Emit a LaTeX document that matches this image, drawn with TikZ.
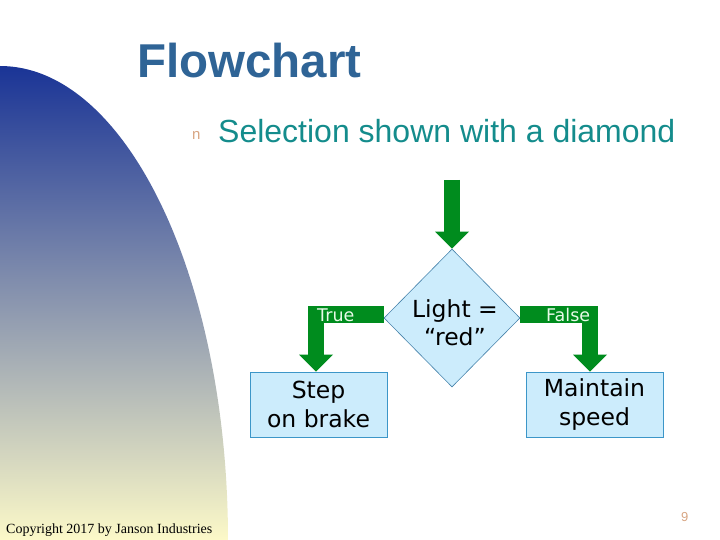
\documentclass[tikz,border=0pt]{standalone}
\usepackage{fontspec}
\setmainfont{Liberation Sans}
\newfontfamily\vfont{DejaVu Sans}
\newfontfamily\serfont{Liberation Serif}
\usetikzlibrary{shapes.geometric,arrows.meta}
\definecolor{gr}{RGB}{0,140,30}
\definecolor{boxfill}{RGB}{204,236,252}
\definecolor{boxline}{RGB}{60,150,200}
\definecolor{dialine}{RGB}{70,130,170}
\definecolor{titlecol}{RGB}{47,100,150}
\definecolor{subcol}{RGB}{20,140,140}
\definecolor{tan}{RGB}{215,165,130}
\definecolor{lbl}{RGB}{232,250,232}
\definecolor{bgtop}{RGB}{26,52,150}
\definecolor{bgmid}{RGB}{182,184,176}
\definecolor{bgbot}{RGB}{252,249,200}
\tikzset{
  garrow/.style={draw=gr, line width=16.5pt, line join=miter, line cap=butt,
    -{Triangle[width=34pt,length=17pt,line width=0pt]}},
  flowbox/.style={draw=boxline, fill=boxfill, line width=0.8pt, minimum width=137pt,
    minimum height=65pt, inner sep=0pt, align=center,
    font=\vfont\fontsize{23.5}{29}\selectfont},
  decision/.style={diamond, draw=dialine, fill=boxfill, line width=0.6pt, aspect=1,
    minimum width=136pt, minimum height=138pt, inner sep=0pt},
  diatext/.style={anchor=base, inner sep=0pt, font=\vfont\fontsize{23.5}{28}\selectfont},
  branchlbl/.style={text=lbl, font=\vfont\fontsize{17.5}{18}\selectfont, inner sep=0pt, anchor=base west}
}
\begin{document}
\begin{tikzpicture}[x=1pt,y=-1pt]
\useasboundingbox (0,0) rectangle (720,540);
% background gradient
\path[top color=bgtop, middle color=bgmid, bottom color=bgbot]
  (0,540) -- (0,66) arc[start angle=90, end angle=0, x radius=228pt, y radius=474pt] -- cycle;
% titles
\node[anchor=base west, inner sep=0pt, text=titlecol, font=\bfseries\fontsize{47.5}{56}\selectfont] (title) at (137,78) {Flowchart};
\node[anchor=base west, inner sep=0pt, text=tan, font=\fontsize{15}{17}\selectfont] (bullet) at (192,140) {n};
\node[anchor=base west, inner sep=0pt, text=subcol, font=\fontsize{32}{38}\selectfont] (sub) at (218,143) {Selection shown with a diamond};
% diagram
\node[decision] (dia) at (452,318) {};
\node[diatext] (dl1) at (455,317) {Light =};
\node[diatext] (dl2) at (455,345) {“red”};
\node[flowbox] (step) at (318.5,404.5) {Step\\on brake};
\node[flowbox] (maint) at (594.5,404.5) {Maintain\\speed};
\coordinate (start) at (452,180);
\draw[garrow] (start) -- (dia.north);
\draw[garrow] ([yshift=3.5pt]dia.west) -| ([xshift=-2.5pt]step.north);
\draw[garrow] ([yshift=3.5pt]dia.east) -| ([xshift=-4.5pt]maint.north);
\node[branchlbl] (tlbl) at (317,321.5) {True};
\node[branchlbl] (flbl) at (546,321.5) {False};
% footer
\node[anchor=base west, inner sep=0pt, font=\serfont\fontsize{14}{16}\selectfont] (copy) at (6,533) {Copyright 2017 by Janson Industries};
\node[anchor=base west, inner sep=0pt, text=tan, font=\fontsize{13}{15}\selectfont] (pnum) at (681,521) {9};
\end{tikzpicture}
\end{document}
